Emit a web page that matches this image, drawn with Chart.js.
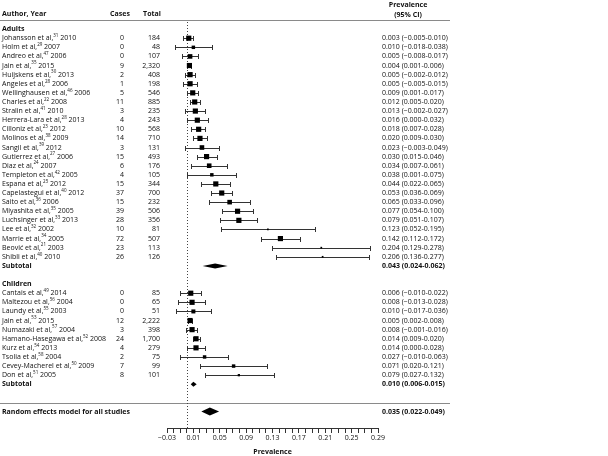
<!DOCTYPE html>
<html>
<head>
<meta charset="utf-8">
<script src="https://cdn.jsdelivr.net/npm/chart.js@4.4.1/dist/chart.umd.min.js"></script>
<style>
  html, body { margin: 0; padding: 0; background: #fff; }
  #wrap { width: 608px; height: 456px; }
</style>
</head>
<body>
<div id="wrap"><canvas id="forest" width="608" height="456"></canvas></div>
<script>
// Adults
const adultAuthors = ['Johansson et al,', 'Holm et al,', 'Andreo et al,', 'Jain et al,', 'Huijskens et al,', 'Angeles et al,',
  'Wellinghausen et al,', 'Charles et al,', 'Stralin et al,', 'Herrera-Lara et al,', 'Cilloniz et al,', 'Molinos et al,',
  'Sangil et al,', 'Gutierrez et al,', 'Diaz et al,', 'Templeton et al,', 'Espana et al,', 'Capelastegui et al,',
  'Saito et al,', 'Miyashita et al,', 'Luchsinger et al,', 'Lee et al,', 'Marrie et al,', 'Beović et al,', 'Shibli et al,'];
const adultRefs = ['31', '29', '47', '35', '30', '28', '46', '22', '41', '28', '23', '38', '39', '27', '24', '42', '25', '40', '36', '35', '33', '32', '34', '21', '40'];
const adultYears = ['2010', '2007', '2006', '2015', '2013', '2006', '2006', '2008', '2010', '2013', '2012', '2009',
  '2012', '2006', '2007', '2005', '2012', '2012', '2006', '2005', '2013', '2002', '2005', '2003', '2010'];
const adultCases = [0, 0, 0, 9, 2, 1, 5, 11, 3, 4, 10, 14, 3, 15, 6, 4, 15, 37, 15, 39, 28, 10, 72, 23, 26];
const adultTotals = [184, 48, 107, 2320, 408, 198, 546, 885, 235, 243, 568, 710, 131, 493, 176, 105, 344, 700, 232, 506, 356, 81, 507, 113, 126];
const adultPrev = [0.003, 0.010, 0.005, 0.004, 0.005, 0.005, 0.009, 0.012, 0.013, 0.016, 0.018, 0.020, 0.023, 0.030, 0.034, 0.038, 0.044, 0.053, 0.065, 0.077, 0.079, 0.123, 0.142, 0.204, 0.206];
const adultLow = [-0.005, -0.018, -0.008, 0.001, -0.002, -0.005, 0.001, 0.005, -0.002, 0.000, 0.007, 0.009, -0.003, 0.015, 0.007, 0.001, 0.022, 0.036, 0.033, 0.054, 0.051, 0.052, 0.112, 0.129, 0.136];
const adultHigh = [0.010, 0.038, 0.017, 0.006, 0.012, 0.015, 0.017, 0.020, 0.027, 0.032, 0.028, 0.030, 0.049, 0.046, 0.061, 0.075, 0.065, 0.069, 0.096, 0.100, 0.107, 0.195, 0.172, 0.278, 0.277];
// study weight
const adultWeights = [4.5, 3, 4, 4.5, 4.5, 4.5, 4.5, 4.5, 4.5, 4.5, 4.5, 4.5, 4, 4.5, 4, 3, 4.5, 4.5, 4, 4.5, 4.5, 1.5, 4.5, 1.5, 1.5];
const adultSubtotal = [0.043, 0.024, 0.062];

// Children
const childAuthors = ['Cantais et al,', 'Maltezou et al,', 'Laundy et al,', 'Jain et al,', 'Numazaki et al,', 'Hamano-Hasegawa et al,',
  'Kurz et al,', 'Tsolia et al,', 'Cevey-Macherel et al,', 'Don et al,'];
const childRefs = ['49', '56', '55', '53', '57', '52', '54', '58', '50', '51'];
const childYears = ['2014', '2004', '2003', '2015', '2004', '2008', '2013', '2004', '2009', '2005'];
const childCases = [0, 0, 0, 12, 3, 24, 4, 2, 7, 8];
const childTotals = [85, 65, 51, 2222, 398, 1700, 279, 75, 99, 101];
const childPrev = [0.006, 0.008, 0.010, 0.005, 0.008, 0.014, 0.014, 0.027, 0.071, 0.079];
const childLow = [-0.010, -0.013, -0.017, 0.002, -0.001, 0.009, 0.000, -0.010, 0.020, 0.027];
const childHigh = [0.022, 0.028, 0.036, 0.008, 0.016, 0.020, 0.028, 0.063, 0.121, 0.132];
const childWeights = [4.5, 4.5, 3.5, 4.5, 4.5, 4.5, 4.5, 3, 3, 2];
const childSubtotal = [0.010, 0.006, 0.015];

const overall = [0.035, 0.022, 0.049];

const xTickLabels = ['−0.03', '0.01', '0.05', '0.09', '0.13', '0.17', '0.21', '0.25', '0.29'];

const FONT = '"Open Sans", sans-serif';
const FS = 7;

function fmt(v) { return (v < 0 ? '\u2212' : '') + Math.abs(v).toFixed(3); }
function ciText(p, l, h) { return fmt(p) + ' (' + fmt(l) + '-' + fmt(h) + ')'; }
function boxRadius(w) { return w * 1.15 / Math.SQRT2; }

// build the table rows, one slot per line
const rows = [];
let slot = 0;
function addGroup(label, authors, refs, years, cases, totals, prev, low, high, weights, sub) {
  rows.push({ kind: 'group', label: label, slot: slot++ });
  authors.forEach(function(a, i) {
    rows.push({ kind: 'study', author: a, ref: refs[i], year: years[i], cases: cases[i], total: totals[i],
      est: prev[i], lo: low[i], hi: high[i], w: weights[i], slot: slot++ });
  });
  rows.push({ kind: 'sub', label: 'Subtotal', est: sub[0], lo: sub[1], hi: sub[2], h: 2.5, slot: slot++ });
}
addGroup('Adults', adultAuthors, adultRefs, adultYears, adultCases, adultTotals, adultPrev, adultLow, adultHigh, adultWeights, adultSubtotal);
slot++;
addGroup('Children', childAuthors, childRefs, childYears, childCases, childTotals, childPrev, childLow, childHigh, childWeights, childSubtotal);
slot++;
const sepSlot = slot++;
rows.push({ kind: 'sub', label: 'Random effects model for all studies', est: overall[0], lo: overall[1], hi: overall[2], h: 4, slot: slot++ });

const studies = rows.filter(r => r.kind === 'study');

const forestPlugin = {
  id: 'forest',
  beforeDatasetsDraw(chart) {
    const { ctx, chartArea } = chart;
    const x = chart.scales.x, y = chart.scales.y;
    ctx.save();
    // horizontal rules
    ctx.strokeStyle = '#8a8a8a';
    ctx.lineWidth = 1;
    [-1, sepSlot].forEach(function(s) {
      const py = Math.round(y.getPixelForValue(s)) + 0.5;
      ctx.beginPath(); ctx.moveTo(0, py); ctx.lineTo(450, py); ctx.stroke();
    });
    // no-effect line
    const x0 = Math.round(x.getPixelForValue(0)) + 0.5;
    ctx.strokeStyle = '#444';
    ctx.setLineDash([1, 2]);
    ctx.beginPath(); ctx.moveTo(x0, chartArea.top + 2); ctx.lineTo(x0, chartArea.bottom); ctx.stroke();
    ctx.setLineDash([]);
    // confidence intervals
    ctx.strokeStyle = '#333';
    studies.forEach(function(r) {
      const py = Math.round(y.getPixelForValue(r.slot)) + 0.5;
      const a = Math.round(x.getPixelForValue(r.lo)) + 0.5;
      const b = Math.round(x.getPixelForValue(r.hi)) + 0.5;
      ctx.beginPath();
      ctx.moveTo(a, py); ctx.lineTo(b, py);
      ctx.moveTo(a, py - 2.5); ctx.lineTo(a, py + 2.5);
      ctx.moveTo(b, py - 2.5); ctx.lineTo(b, py + 2.5);
      ctx.stroke();
    });
    // pooled diamonds
    ctx.fillStyle = '#000';
    rows.filter(r => r.kind === 'sub').forEach(function(r) {
      const py = y.getPixelForValue(r.slot);
      ctx.beginPath();
      ctx.moveTo(x.getPixelForValue(r.lo), py);
      ctx.lineTo(x.getPixelForValue(r.est), py - r.h);
      ctx.lineTo(x.getPixelForValue(r.hi), py);
      ctx.lineTo(x.getPixelForValue(r.est), py + r.h);
      ctx.closePath();
      ctx.fill();
    });
    ctx.restore();
  },
  afterDraw(chart) {
    const { ctx } = chart;
    const y = chart.scales.y;
    const bold = 'bold ' + FS + 'px ' + FONT;
    const norm = FS + 'px ' + FONT;
    ctx.save();
    ctx.fillStyle = '#111';
    ctx.textBaseline = 'middle';
    // header
    ctx.font = bold;
    ctx.textAlign = 'left';
    ctx.fillText('Author, Year', 2, 14);
    ctx.textAlign = 'center';
    ctx.fillText('Cases', 120, 14);
    ctx.fillText('Total', 152, 14);
    ctx.fillText('Prevalence', 408, 5);
    ctx.fillText('(95% CI)', 408, 15);

    rows.forEach(function(r) {
      const py = y.getPixelForValue(r.slot);
      if (r.kind === 'group') {
        ctx.font = bold; ctx.textAlign = 'left';
        ctx.fillText(r.label, 2, py);
      } else if (r.kind === 'sub') {
        ctx.font = bold; ctx.textAlign = 'left';
        ctx.fillText(r.label, 2, py);
        ctx.fillText(ciText(r.est, r.lo, r.hi), 382, py);
      } else {
        ctx.font = norm; ctx.textAlign = 'left';
        ctx.fillText(r.author, 2, py);
        let px = 2 + ctx.measureText(r.author).width;
        ctx.font = '4.5px ' + FONT;
        ctx.fillText(r.ref, px, py - 2.5);
        px += ctx.measureText(r.ref).width;
        ctx.font = norm;
        ctx.fillText(' ' + r.year, px, py);
        ctx.textAlign = 'right';
        ctx.fillText(String(r.cases), 124, py);
        ctx.fillText(r.total.toLocaleString('en-US'), 160, py);
        ctx.textAlign = 'left';
        ctx.fillText(ciText(r.est, r.lo, r.hi), 382, py);
      }
    });
    ctx.restore();
  }
};

Chart.defaults.font.family = FONT;
Chart.defaults.font.size = FS;
Chart.defaults.color = '#111';

new Chart(document.getElementById('forest').getContext('2d'), {
  type: 'scatter',
  data: {
    datasets: [{
      label: 'Prevalence',
      data: studies.map(r => ({ x: r.est, y: r.slot })),
      pointStyle: 'rect',
      pointRadius: studies.map(r => boxRadius(r.w)),
      pointHoverRadius: studies.map(r => boxRadius(r.w)),
      backgroundColor: '#000',
      borderWidth: 0
    }]
  },
  plugins: [forestPlugin],
  options: {
    responsive: false,
    animation: false,
    layout: { padding: { left: 167, right: 230, top: 20, bottom: 0 } },
    plugins: { legend: { display: false }, tooltip: { enabled: false } },
    scales: {
      x: {
        type: 'linear',
        min: -0.03,
        max: 0.29,
        afterBuildTicks: function(scale) {
          const t = [];
          for (let k = -3; k <= 29; k++) t.push({ value: k / 100 });
          scale.ticks = t;
        },
        afterFit: function(scale) { scale.height = 28; },
        ticks: {
          autoSkip: false,
          maxRotation: 0,
          padding: 1,
          color: '#111',
          callback: function(v, i) { return i % 4 === 0 ? xTickLabels[i / 4] : ''; }
        },
        grid: { drawOnChartArea: false, tickLength: 5, color: '#333' },
        border: { color: '#333' },
        title: { display: true, text: 'Prevalence', font: { weight: 'bold', size: FS }, padding: { top: 0, bottom: 0 } }
      },
      y: {
        type: 'linear',
        reverse: true,
        min: -1,
        max: 43.8,
        display: false
      }
    }
  }
});
</script>
</body>
</html>
